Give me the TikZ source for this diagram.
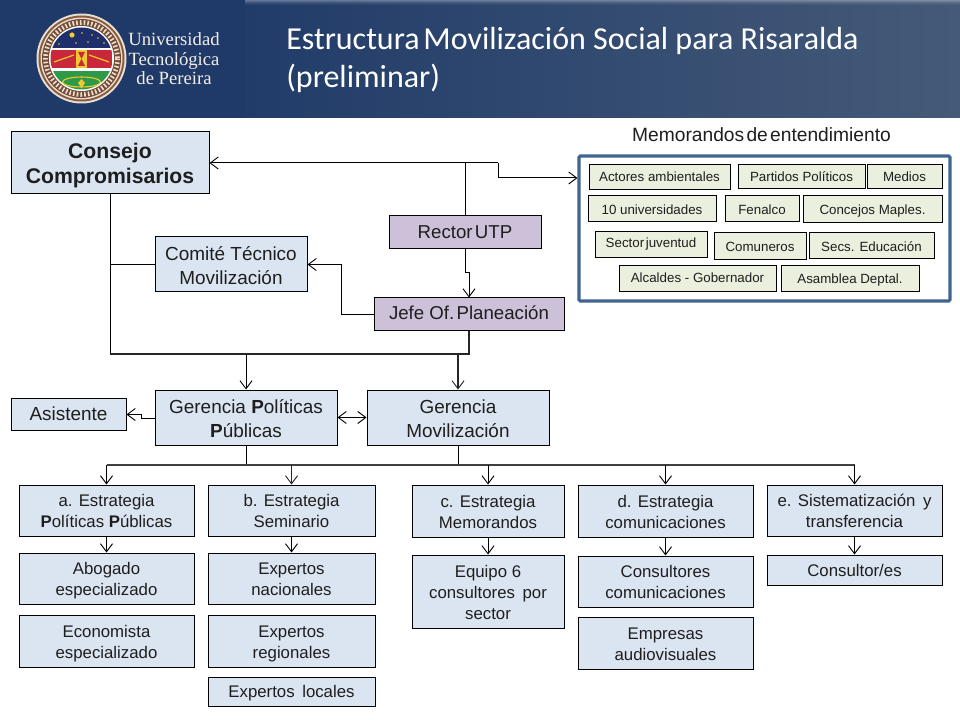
\documentclass[tikz,border=0pt]{standalone}
\usepackage{fontspec}
\setmainfont{Liberation Sans}
\newfontfamily\titlefont{Carlito}
\newfontfamily\seriffont{Liberation Serif}
\usetikzlibrary{arrows.meta,calc}
\definecolor{bluebox}{HTML}{DBE5F1}
\definecolor{purplebox}{HTML}{CCC1D9}
\definecolor{greenbox}{HTML}{EBEFDE}
\definecolor{framecol}{HTML}{3F648F}
\definecolor{inktext}{HTML}{1E1E1E}
\definecolor{headL}{HTML}{1F3A68}
\definecolor{headM}{HTML}{213C69}
\definecolor{headR}{HTML}{455A78}
\definecolor{logoBrown}{HTML}{8A5A3C}
\definecolor{logoCream}{HTML}{E9DFD2}
\definecolor{logoSky}{HTML}{1F2F6B}
\definecolor{logoRed}{HTML}{C8283A}
\definecolor{logoGreen}{HTML}{2E9A48}
\definecolor{logoYellow}{HTML}{F0C830}
\tikzset{
  box/.style={draw=black,line width=0.75pt,inner sep=0pt,text=inktext},
  consbox/.style={box,fill=bluebox,font=\fontsize{15.9}{18.8}\selectfont},
  bigbox/.style={box,fill=bluebox,font=\fontsize{14.2}{18}\selectfont},
  midbox/.style={box,fill=bluebox,font=\fontsize{12.6}{15.6}\selectfont},
  purbox/.style={box,fill=purplebox,font=\fontsize{14}{18}\selectfont},
  tinybox/.style={box,fill=greenbox,font=\fontsize{10}{12}\selectfont},
  conn/.style={draw=black,line width=0.75pt},
  heavy/.style={draw=black!85,line width=1.3pt},
  tip/.style={-{Straight Barb[length=6pt,width=9pt,line width=0.7pt]}},
  bitip/.style={{Straight Barb[length=6pt,width=9pt,line width=0.7pt]}-{Straight Barb[length=6pt,width=9pt,line width=0.7pt]}},
  titletext/.style={anchor=base west,inner sep=0pt,text=white,font=\titlefont\fontsize{24}{28}\selectfont},
  logotext/.style={anchor=base,inner sep=0pt,text=logoCream!55!white,font=\seriffont\fontsize{14}{16}\selectfont}
}
% optional argument: upward shift of the text inside its box
\newcommand{\bx}[8][0pt]{\node[#3,minimum width={(#6-#4)*0.75pt},minimum height={(#7-#5)*0.75pt}] (#2) at ({(#4+#6)/2},{(#5+#7)/2}) {\raisebox{#1}[\height][\depth]{\begin{tabular}{@{}c@{}}#8\end{tabular}}};}
\newcommand{\nsp}{\hspace{0.12em}}
\begin{document}
\begin{tikzpicture}[x=0.75pt,y=-0.75pt]
\useasboundingbox (0,0) rectangle (960,720);
\fill[white] (0,0) rectangle (960,720);
% header
\fill[headL] (0,0) rectangle (246,118);
\shade[left color=headM,right color=headR] (245,0) rectangle (960,118);
\foreach \i/\o in {0/0.30,1/0.22,2/0.14,3/0.08,4/0.04}{
  \fill[white,opacity=\o] (245,\i) rectangle (960,\i+1);
}
% logo
\begin{scope}
\fill[logoCream] (81.5,58.5) circle[radius=45];
\fill[logoBrown] (81.5,58.5) circle[radius=43];
\fill[logoCream] (81.5,58.5) circle[radius=41];
\fill[logoBrown!85!black] (81.5,58.5) circle[radius=39.5];
\draw[logoCream,line width=3.5pt,dash pattern=on 1.2pt off 1.6pt] (81.5,58.5) circle[radius=36];
\fill[white] (81.5,58.5) circle[radius=32.5];
\clip (81.5,58.5) circle[radius=31];
\fill[logoSky] (50,27) rectangle (113,48);
\fill[white] (50,48) rectangle (113,50);
\fill[logoRed] (50,50) rectangle (113,68);
\fill[white] (50,68) rectangle (113,71);
\fill[logoGreen] (50,71) rectangle (113,91);
\fill[logoYellow] (72,35) circle[radius=2.6];
\foreach \p in {(82,33),(92,35),(59,44),(76,43),(88,42),(104,43),(98,38)}{\fill[logoYellow] \p circle[radius=0.9];}
\fill[logoYellow] (76,50) rectangle (87,68);
\fill[logoRed] (78,52) -- (85,52) -- (81.5,59) -- (85,66) -- (78,66) -- (81.5,59) -- cycle;
\draw[logoYellow,line width=0.9pt] (54,62) -- (74,55);
\draw[logoYellow,line width=0.9pt] (109,62) -- (89,55);
\draw[logoYellow,line width=0.8pt] (81.5,82) ellipse[x radius=19,y radius=5];
\fill[logoYellow] (81.5,79) -- (85,83) -- (81.5,88) -- (78,83) -- cycle;
\end{scope}
\node[logotext] (lg1) at (174,46) {Universidad};
\node[logotext] (lg2) at (174,66) {Tecnológica};
\node[logotext] (lg3) at (174,85) {de Pereira};
\node[titletext] (t1) at (286,50) {Estructura\nsp Movilización Social para Risaralda};
\node[titletext] (t2) at (286,88) {(preliminar)};
% main boxes
\bx[-2.2pt]{cons}{consbox}{11}{132}{209}{194}{\textbf{Consejo}\\\textbf{Compromisarios}}
\bx[-0.75pt]{rect}{purbox}{389}{216}{541}{249}{Rector\nsp UTP}
\bx[-2.2pt]{comi}{bigbox}{155}{237}{307}{292}{Comité Técnico\\Movilización}
\bx[-0.75pt]{jefe}{purbox}{374}{298}{564}{330}{Jefe Of.\nsp Planeación}
\bx[-1.5pt]{asis}{bigbox}{11}{398}{126}{430}{Asistente}
\bx[-2.2pt]{gpol}{bigbox}{155}{390}{337}{445}{Gerencia \textbf{P}olíticas\\\textbf{P}úblicas}
\bx[-2.2pt]{gmov}{bigbox}{367}{390}{549}{445}{Gerencia\\Movilización}
\bx[-1.9pt]{ea}{midbox}{19}{485}{194}{536}{a. Estrategia\\\textbf{P}olíticas \textbf{P}úblicas}
\bx[-1.5pt]{eb}{midbox}{208}{485}{375}{536}{b. Estrategia\\Seminario}
\bx[-2.2pt]{ec}{midbox}{412}{485}{564}{537}{c. Estrategia\\Memorandos}
\bx[-2.2pt]{ed}{midbox}{578}{485}{753}{537}{d. Estrategia\\comunicaciones}
\bx[-1.5pt]{ee}{midbox}{767}{485}{942}{536}{e. Sistematización\hspace{0.45em}y\\transferencia}
\bx[-1.5pt]{abog}{midbox}{19}{553}{194}{604}{Abogado\\especializado}
\bx[-2.2pt]{econ}{midbox}{19}{615}{194}{667}{Economista\\especializado}
\bx[-1.5pt]{enac}{midbox}{208}{553}{375}{604}{Expertos\\nacionales}
\bx[-2.2pt]{ereg}{midbox}{208}{615}{375}{667}{Expertos\\regionales}
\bx[-1.5pt]{eloc}{midbox}{208}{677}{375}{706}{Expertos\hspace{0.45em}locales}
\bx[-2.2pt]{equi}{midbox}{412}{555}{564}{628}{Equipo 6\\consultores\hspace{0.45em}por\\sector}
\bx[-1.5pt]{ccom}{midbox}{578}{556}{753}{607}{Consultores\\comunicaciones}
\bx[-2.2pt]{empr}{midbox}{578}{617}{753}{669}{Empresas\\audiovisuales}
\bx[-1.5pt]{cons2}{midbox}{767}{555}{942}{585}{Consultor/es}
% memorandos
\node[anchor=base,inner sep=0pt,text=inktext,font=\fontsize{14.4}{16}\selectfont] (mtit) at (761.5,142) {Memorandos\nsp de\nsp entendimiento};
\node[draw=framecol,line width=2.3pt,rounded corners=1pt,minimum width={371*0.75pt},minimum height={145*0.75pt},inner sep=0pt] (memo) at (764.5,228.5) {};
\bx[-0.75pt]{m1}{tinybox}{589}{165}{730}{190}{Actores ambientales}
\bx[-0.75pt]{m2}{tinybox}{738}{165}{865}{189}{Partidos Políticos}
\bx[-0.75pt]{m3}{tinybox}{867}{165}{942}{189}{Medios}
\bx[-1.5pt]{m4}{tinybox}{588}{196}{716}{222}{10 universidades}
\bx[-1.5pt]{m5}{tinybox}{725}{196}{799}{222}{Fenalco}
\bx[-1.5pt]{m6}{tinybox}{803}{196}{942}{223}{Concejos Maples.}
\bx[0.75pt]{m7}{tinybox}{595}{232}{707}{258}{Sector\nsp juventud}
\bx[-1.5pt]{m8}{tinybox}{714}{233}{806}{260}{Comuneros}
\bx[-1.5pt]{m9}{tinybox}{809}{233}{934}{259}{Secs. Educación}
\bx{m10}{tinybox}{619}{266}{776}{292}{Alcaldes - Gobernador}
\bx[-0.75pt]{m11}{tinybox}{781}{266}{919}{292}{Asamblea Deptal.}
% junctions
\coordinate (jtop) at (rect.north |- cons.east);
\coordinate (jm1) at (498,163);
\coordinate (jm2) at (498,178);
\coordinate (jmem) at (memo.west |- jm2);
\coordinate (jleft) at (110,354);
\coordinate (jright) at (jefe.south |- jleft);
\coordinate (jcomi) at (jleft |- comi.west);
\coordinate (jcons) at (jleft |- cons.south);
\coordinate (jr1) at (465,273);
\coordinate (jr2) at (469,273);
\coordinate (jc1) at (341,0 |- jefe.west);
\coordinate (jc2) at (341,0 |- comi.east);
\coordinate (jg1) at (gpol.north |- jleft);
\coordinate (jg2) at (gmov.north |- jleft);
\coordinate (jas1) at (141,418.5);
\coordinate (jas2) at (141,414.5);
\coordinate (jas3) at (asis.east |- jas2);
\coordinate (bl) at (ea.north |- 0,465);
\coordinate (br) at (ee.north |- 0,465);
\coordinate (jb) at (eb.north |- bl);
\coordinate (jc) at (ec.north |- bl);
\coordinate (jd) at (ed.north |- bl);
\coordinate (gp1) at (gpol.south |- bl);
\coordinate (gm1) at (gmov.south |- bl);
% connectors
\draw[conn,tip] (jtop) -- (jtop -| cons.east);
\draw[conn] (rect.north) -- (jtop) -- (jm1);
\draw[conn,tip] (jm1) -- (jm2) -- (jmem);
\draw[conn] (jcons) -- (jleft);
\draw[conn] (jcomi) -- (comi.west);
\draw[heavy] (jleft) -- (jright) -- (jefe.south);
\draw[conn,tip] (rect.south) -- (jr1) -- (jr2) -- (jefe.north -| jr2);
\draw[conn,tip] (jefe.west) -- (jc1) -- (jc2) -- (comi.east);
\draw[conn,tip] (jg1) -- (gpol.north);
\draw[heavy,tip] (jg2) -- (gmov.north);
\draw[conn,tip] (jas1 -| gpol.west) -- (jas1) -- (jas2) -- (jas3);
\draw[conn,bitip] (gpol.east) -- (gmov.west);
\draw[conn] (gpol.south) -- (gp1);
\draw[conn] (gmov.south) -- (gm1);
\draw[heavy,draw=black!75,line width=1pt] (bl) -- (br);
\draw[conn,tip] (bl) -- (ea.north);
\draw[heavy,line width=1pt,tip] (jb) -- (eb.north);
\draw[conn,tip] (jc) -- (ec.north);
\draw[conn,tip] (jd) -- (ed.north);
\draw[conn,tip] (br) -- (ee.north);
\draw[conn,tip] (ea.south) -- (abog.north);
\draw[conn,tip] (eb.south) -- (enac.north);
\draw[conn,tip] (ec.south) -- (equi.north);
\draw[conn,tip] (ed.south) -- (ccom.north);
\draw[conn,tip] (ee.south) -- (cons2.north);
\end{tikzpicture}
\end{document}
